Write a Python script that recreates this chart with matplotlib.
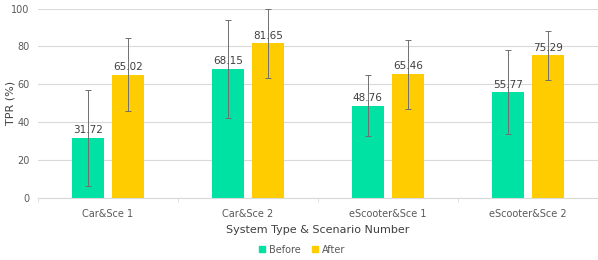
import numpy as np
from matplotlib import pyplot as plt
from matplotlib.patches import Patch

plt.rcParams['font.family'] = ['Liberation Sans Narrow', 'DejaVu Sans']

# Data
categories = ['Car&Sce 1', 'Car&Sce 2', 'eScooter&Sce 1', 'eScooter&Sce 2']
before = [31.72, 68.15, 48.76, 55.77]
after = [65.02, 81.65, 65.46, 75.29]
before_err = [25.4, 26.0, 16.0, 22.2]
after_err = [19.2, 18.1, 18.2, 13.1]

green = '#00E1A4'
yellow = '#FFCC00'
grey = '#595959'

fig = plt.figure(figsize=(5.98, 2.6), dpi=100)
ax = fig.add_axes([0.063, 0.238, 0.937, 0.729])

x = np.arange(len(categories))
w = 0.228
off = 0.143
ax.bar(x - off, before, w, color=green, zorder=2)
ax.bar(x + off, after, w, color=yellow, zorder=2)
ax.errorbar(x - off, before, yerr=before_err, fmt='none', ecolor='#6f6f6f',
            elinewidth=0.7, capsize=2, capthick=0.7, zorder=3)
ax.errorbar(x + off, after, yerr=after_err, fmt='none', ecolor='#6f6f6f',
            elinewidth=0.7, capsize=2, capthick=0.7, zorder=3)

for xi, v in zip(x - off, before):
    ax.text(xi, v + 1.5, f'{v:.2f}', ha='center', va='bottom', fontsize=7.5, color='#404040')
for xi, v in zip(x + off, after):
    ax.text(xi, v + 1.5, f'{v:.2f}', ha='center', va='bottom', fontsize=7.5, color='#404040')

ax.set_xlim(-0.5, 3.5)
ax.set_ylim(0, 100)
ax.set_yticks(range(0, 101, 20))
ax.set_xticks(x)
ax.set_xticklabels(categories)
ax.set_xticks(np.arange(-0.5, 4, 1), minor=True)
ax.tick_params(axis='x', which='major', length=0, labelsize=7, colors=grey, pad=8)
ax.tick_params(axis='x', which='minor', length=3, color='#d9d9d9')
ax.tick_params(axis='y', length=0, labelsize=7, colors=grey, pad=6)
ax.yaxis.grid(True, color='#d9d9d9', linewidth=0.8, zorder=0)
ax.set_axisbelow(True)
for s in ['top', 'right', 'left']:
    ax.spines[s].set_visible(False)
ax.spines['bottom'].set_color('#d9d9d9')

ax.set_xlabel('System Type & Scenario Number', fontsize=8, color='#404040', labelpad=4)
ax.set_ylabel('TPR (%)', fontsize=8, color='#404040')
ax.yaxis.set_label_coords(-0.04, 0.5)

handles = [Patch(color=green, label='Before'), Patch(color=yellow, label='After')]
fig.legend(handles=handles, loc='center', bbox_to_anchor=(0.505, 0.04), ncol=2,
           frameon=False, fontsize=7, handlelength=0.6, handleheight=0.6,
           handletextpad=0.4, columnspacing=1.2, labelcolor=grey)

fig.savefig('out.png', dpi=100)
